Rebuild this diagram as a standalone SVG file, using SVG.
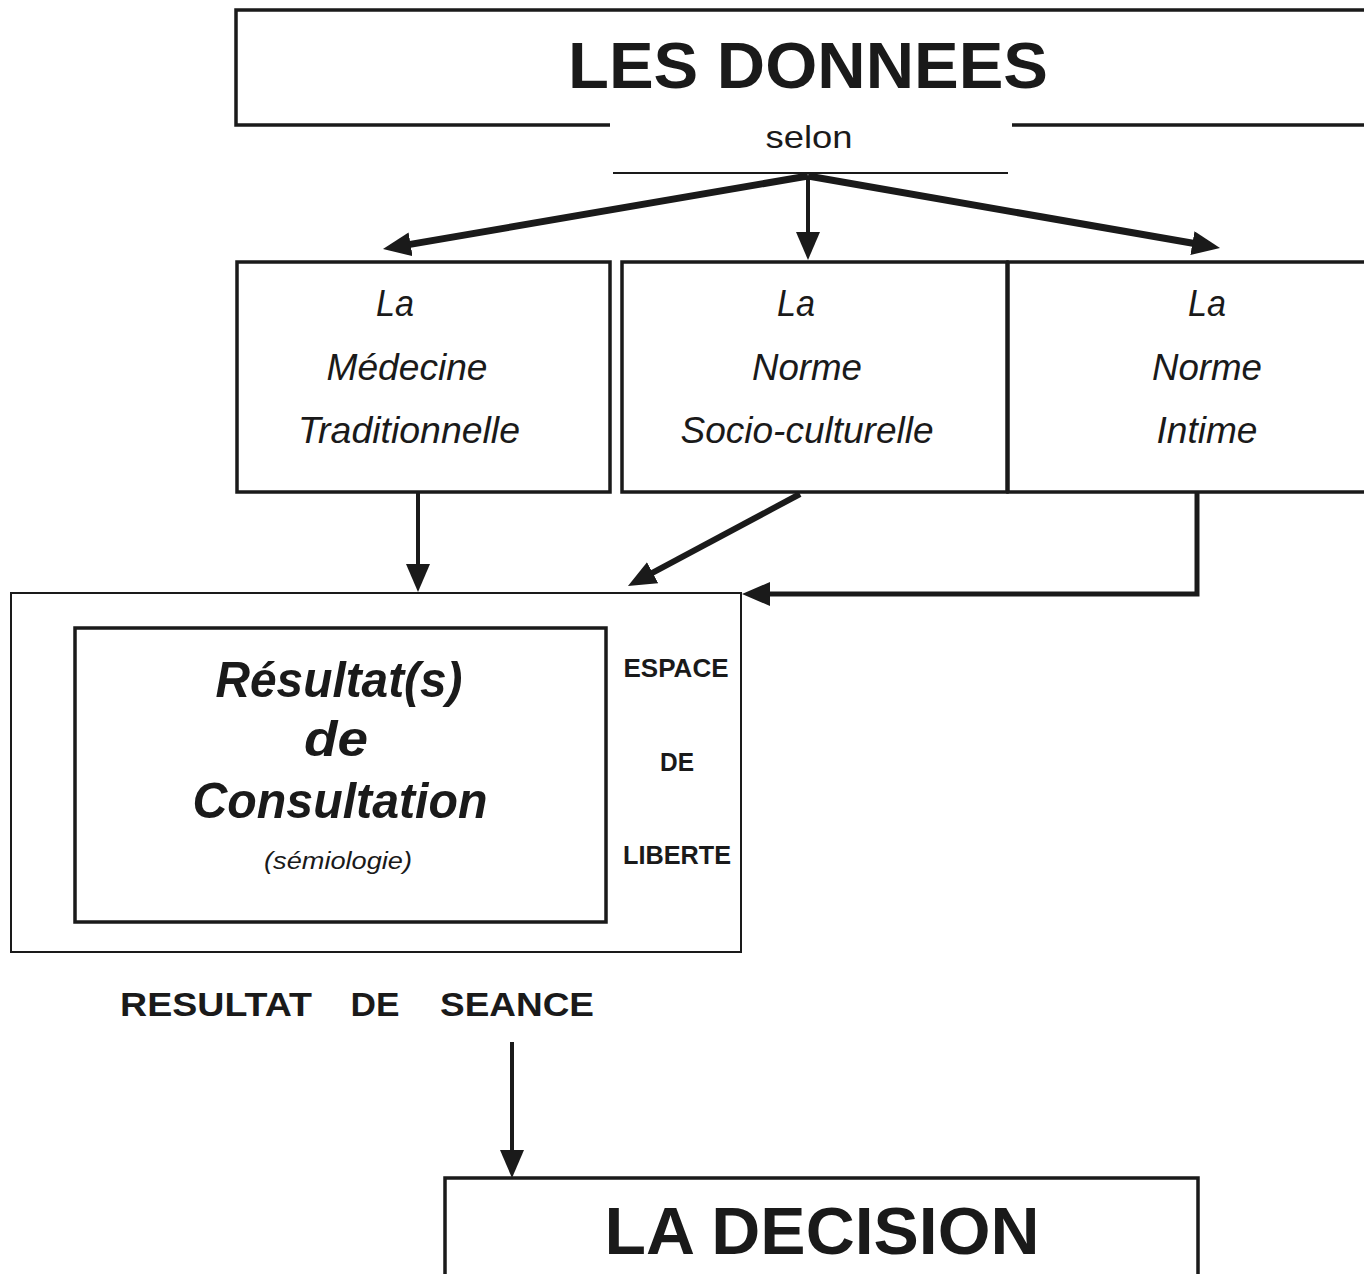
<svg xmlns="http://www.w3.org/2000/svg" width="1364" height="1274" viewBox="0 0 1364 1274">
<style>
.box{fill:none;stroke:#1a1a1a;stroke-width:3.5}
.thin{fill:none;stroke:#1a1a1a;stroke-width:2}
.arr{fill:none;stroke:#1a1a1a;stroke-linejoin:miter}
.t{font-family:"Liberation Sans",Arial,sans-serif;fill:#1a1a1a;text-anchor:middle}
.b{font-weight:bold}
.i{font-style:italic}
</style>
<defs>
<marker id="ah" viewBox="0 0 28 24" refX="2" refY="12" markerWidth="28" markerHeight="24" markerUnits="userSpaceOnUse" orient="auto">
<path d="M0,0 L28,12 L0,24 z" fill="#1a1a1a"/>
</marker>
</defs>
<rect width="1364" height="1274" fill="#fff"/>

<g id="donnees">
<path class="box" d="M610,125 L236,125 L236,10 L1366,10 M1012,125 L1366,125"/>
<text class="t b" x="808" y="88" font-size="64" textLength="480" lengthAdjust="spacingAndGlyphs">LES  DONNEES</text>
<text class="t" x="809" y="148" font-size="32" textLength="87" lengthAdjust="spacingAndGlyphs">selon</text>
<line class="thin" x1="613" y1="173" x2="1008" y2="173" stroke-width="1.5"/>
</g>

<g id="medecine">
<rect class="box" x="237" y="262" width="373" height="230"/>
<text class="t i" x="395" y="316" font-size="36" textLength="38" lengthAdjust="spacingAndGlyphs">La</text>
<text class="t i" x="407" y="380" font-size="36" textLength="161" lengthAdjust="spacingAndGlyphs">Médecine</text>
<text class="t i" x="409" y="443" font-size="36" textLength="222" lengthAdjust="spacingAndGlyphs">Traditionnelle</text>
</g>

<g id="socio">
<rect class="box" x="622" y="262" width="385" height="230"/>
<text class="t i" x="796" y="316" font-size="36" textLength="38" lengthAdjust="spacingAndGlyphs">La</text>
<text class="t i" x="807" y="380" font-size="36" textLength="110" lengthAdjust="spacingAndGlyphs">Norme</text>
<text class="t i" x="807" y="443" font-size="36" textLength="253" lengthAdjust="spacingAndGlyphs">Socio-culturelle</text>
</g>

<g id="intime">
<path class="box" d="M1366,262 L1008,262 L1008,492 L1366,492"/>
<text class="t i" x="1207" y="316" font-size="36" textLength="38" lengthAdjust="spacingAndGlyphs">La</text>
<text class="t i" x="1207" y="380" font-size="36" textLength="110" lengthAdjust="spacingAndGlyphs">Norme</text>
<text class="t i" x="1207" y="443" font-size="36" textLength="101" lengthAdjust="spacingAndGlyphs">Intime</text>
</g>

<g id="espace">
<rect class="thin" x="11" y="593" width="730" height="359"/>
<text class="t b" x="676" y="677" font-size="25" textLength="105" lengthAdjust="spacingAndGlyphs">ESPACE</text>
<text class="t b" x="677" y="771" font-size="25" textLength="34" lengthAdjust="spacingAndGlyphs">DE</text>
<text class="t b" x="677" y="864" font-size="25" textLength="108" lengthAdjust="spacingAndGlyphs">LIBERTE</text>
</g>

<g id="resultats">
<rect class="box" x="75" y="628" width="531" height="294"/>
<text class="t b i" x="339" y="697" font-size="50" textLength="247" lengthAdjust="spacingAndGlyphs">Résultat(s)</text>
<text class="t b i" x="336" y="756" font-size="50" textLength="64" lengthAdjust="spacingAndGlyphs">de</text>
<text class="t b i" x="340" y="818" font-size="50" textLength="295" lengthAdjust="spacingAndGlyphs">Consultation</text>
<text class="t i" x="338" y="869" font-size="24" textLength="148" lengthAdjust="spacingAndGlyphs">(sémiologie)</text>
</g>

<g id="seance">
<text class="t b" x="216" y="1016" font-size="34" textLength="192" lengthAdjust="spacingAndGlyphs">RESULTAT</text>
<text class="t b" x="375" y="1016" font-size="34" textLength="49" lengthAdjust="spacingAndGlyphs">DE</text>
<text class="t b" x="517" y="1016" font-size="34" textLength="154" lengthAdjust="spacingAndGlyphs">SEANCE</text>
</g>

<g id="decision">
<path class="box" d="M445,1276 L445,1178 L1198,1178 L1198,1276"/>
<text class="t b" x="822" y="1254" font-size="66" textLength="435" lengthAdjust="spacingAndGlyphs">LA  DECISION</text>
</g>

<g id="connectors">
<line class="arr" x1="808" y1="176" x2="408.6" y2="244.6" stroke-width="7" marker-end="url(#ah)"/>
<line class="arr" x1="808" y1="176" x2="808" y2="234" stroke-width="4" marker-end="url(#ah)"/>
<line class="arr" x1="808" y1="176" x2="1194.4" y2="243.5" stroke-width="7" marker-end="url(#ah)"/>
<line class="arr" x1="418" y1="492" x2="418" y2="566" stroke-width="4" marker-end="url(#ah)"/>
<line class="arr" x1="800" y1="494" x2="650.9" y2="573.7" stroke-width="6" marker-end="url(#ah)"/>
<path class="arr" d="M1197,492 L1197,594 L768,594" stroke-width="5" marker-end="url(#ah)"/>
<line class="arr" x1="512" y1="1042" x2="512" y2="1152" stroke-width="4" marker-end="url(#ah)"/>
</g>
</svg>
